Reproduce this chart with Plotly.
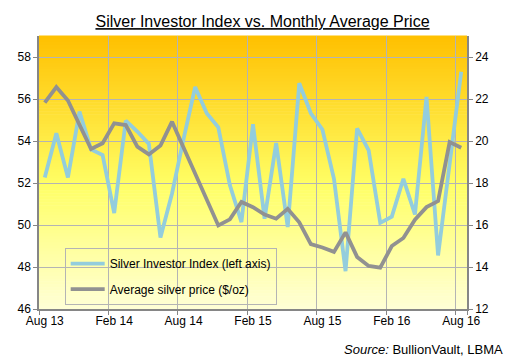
import plotly.graph_objects as go

months = ["Aug 13", "Sep 13", "Oct 13", "Nov 13", "Dec 13", "Jan 14", "Feb 14", "Mar 14",
          "Apr 14", "May 14", "Jun 14", "Jul 14", "Aug 14", "Sep 14", "Oct 14", "Nov 14",
          "Dec 14", "Jan 15", "Feb 15", "Mar 15", "Apr 15", "May 15", "Jun 15", "Jul 15",
          "Aug 15", "Sep 15", "Oct 15", "Nov 15", "Dec 15", "Jan 16", "Feb 16", "Mar 16",
          "Apr 16", "May 16", "Jun 16", "Jul 16", "Aug 16"]

investor_index = [52.26, 54.37, 52.26, 55.40, 53.60, 53.33, 50.57, 54.97, 54.45, 53.86,
                  49.40, 51.50, 54.10, 56.57, 55.32, 54.65, 51.90, 50.14, 54.80, 50.30,
                  53.90, 49.90, 56.75, 55.32, 54.55, 52.20, 47.80, 54.60, 53.55, 50.10,
                  50.40, 52.20, 50.50, 56.10, 48.55, 52.90, 57.30]

silver_price = [21.83, 22.57, 21.93, 20.76, 19.62, 19.89, 20.84, 20.76, 19.73, 19.36,
                19.78, 20.92, 19.68, 18.47, 17.23, 15.98, 16.27, 17.10, 16.85, 16.50,
                16.30, 16.77, 16.13, 15.09, 14.93, 14.72, 15.65, 14.48, 14.05, 13.97,
                15.00, 15.38, 16.25, 16.85, 17.14, 19.95, 19.68]

x_labels = ["Aug 13", "Feb 14", "Aug 14", "Feb 15", "Aug 15", "Feb 16", "Aug 16"]
left_ticks = [46, 48, 50, 52, 54, 56, 58]
right_ticks = [12, 14, 16, 18, 20, 22, 24]

FONT = "Liberation Sans, Arial, sans-serif"
BLUE = "#93CDDD"
GRAY = "#919191"
GRID = "#B4B4B4"
AXIS = "#868686"

fig = go.Figure()
fig.add_trace(go.Scatter(x=months, y=investor_index, mode="lines",
                         name="Silver Investor Index (left axis)",
                         line=dict(color=BLUE, width=3.8), legendgroup="a", yaxis="y"))
fig.add_trace(go.Scatter(x=months, y=silver_price, mode="lines",
                         name="Average silver price ($/oz)",
                         line=dict(color=GRAY, width=3.8), legendgroup="b", yaxis="y2"))

# vertical gradient background for plot area
def lerp(c1, c2, t):
    return tuple(round(a + (b - a) * t) for a, b in zip(c1, c2))

stops = [(0.0, (255, 255, 214)), (0.45, (255, 255, 102)), (1.0, (255, 192, 0))]
N = 90
shapes = []
for k in range(N):
    y0 = k / N
    y1 = (k + 1) / N
    ym = (y0 + y1) / 2
    for j in range(len(stops) - 1):
        if stops[j][0] <= ym <= stops[j + 1][0]:
            t = (ym - stops[j][0]) / (stops[j + 1][0] - stops[j][0])
            c = lerp(stops[j][1], stops[j + 1][1], t)
            break
    shapes.append(dict(type="rect", xref="paper", yref="paper", x0=0, x1=1, y0=y0, y1=y1 + 0.002,
                       fillcolor="rgb(%d,%d,%d)" % c, line=dict(width=0), layer="below"))

fig.update_layout(
    width=511, height=359,
    margin=dict(l=39, r=44, t=36, b=50, autoexpand=False),
    paper_bgcolor="white",
    plot_bgcolor="rgba(0,0,0,0)",
    shapes=shapes,
    font=dict(family=FONT, size=12, color="black"),
    title=dict(text="<u>Silver Investor Index vs. Monthly Average Price</u>",
               x=262.5 / 511, xanchor="center", xref="container",
               y=1 - 21.5 / 359, yanchor="middle", yref="container",
               font=dict(family=FONT, size=16, color="black")),
    xaxis=dict(type="category", range=[-0.5, 36.5], tickmode="array", tickvals=x_labels,
               ticktext=x_labels, tickson="boundaries", tickangle=0, automargin=False,
               showgrid=True, gridcolor=GRID, gridwidth=1,
               ticks="outside", ticklen=4, tickcolor=AXIS, showline=True, linecolor=AXIS,
               linewidth=1.5, zeroline=False, tickfont=dict(size=12)),
    yaxis=dict(range=[46, 59], tickvals=left_ticks, showgrid=True, gridcolor=GRID, gridwidth=1,
               automargin=False,
               ticks="outside", ticklen=4, tickcolor=AXIS, showline=True, linecolor=AXIS,
               linewidth=1.5, zeroline=False, tickfont=dict(size=12)),
    yaxis2=dict(range=[12, 25], tickvals=right_ticks, overlaying="y", side="right",
                automargin=False,
                showgrid=False, ticks="outside", ticklen=4, tickcolor=AXIS, showline=True,
                linecolor=AXIS, linewidth=1.5, zeroline=False, tickfont=dict(size=12)),
    legend=dict(x=0.06, y=0.223, xanchor="left", yanchor="top", bgcolor="rgba(0,0,0,0)",
                bordercolor=GRID, borderwidth=1, traceorder="grouped", tracegroupgap=6.5,
                itemwidth=34,
                font=dict(family=FONT, size=12, color="black")),
    showlegend=True,
    annotations=[dict(text="<i>Source:</i> BullionVault, LBMA", xref="paper", yref="paper",
                      x=(505 - 39.5) / 427.5, y=(309.5 - 350) / 273.5, xanchor="right",
                      yanchor="middle", showarrow=False,
                      font=dict(family=FONT, size=13, color="black"))],
)

fig.write_html("out.html", config={"displayModeBar": False},
               post_script="document.body.style.margin='0px';")
